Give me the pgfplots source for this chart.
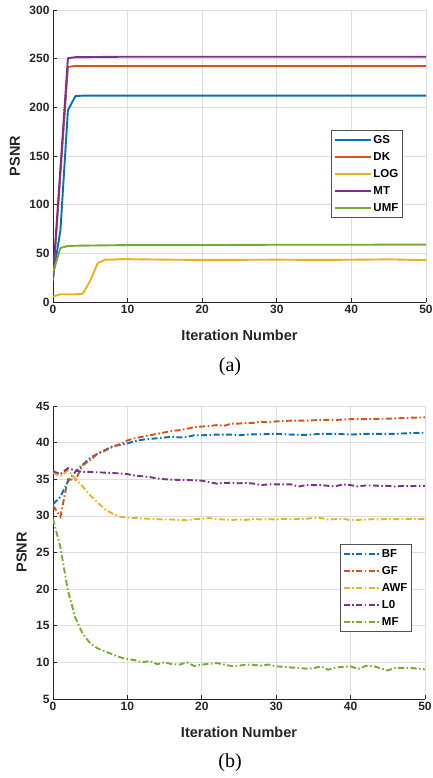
\documentclass[border=0pt]{standalone}
\usepackage{fontspec}
\setmainfont{Liberation Sans}
\newfontfamily\capfont{Liberation Serif}
\usepackage{pgfplots}
\pgfplotsset{compat=1.18}
\definecolor{mblue}{HTML}{0072BD}
\definecolor{mred}{HTML}{D95319}
\definecolor{myellow}{HTML}{EDB120}
\definecolor{mpurple}{HTML}{7E2F8E}
\definecolor{mgreen}{HTML}{77AC30}
\definecolor{axgray}{HTML}{262626}

\pgfplotsset{
  psnrstyle/.style={
    scale only axis,
    anchor=south west,
    xmin=0, xmax=50,
    xtick={0,10,...,50},
    axis lines=left,
    axis line style={-, draw=axgray, line width=0.9pt},
    tick align=inside,
    major tick length=4pt,
    tick style={draw=axgray, line width=0.7pt},
    grid=major,
    grid style={draw=black!13, line width=0.7pt},
    /pgf/number format/assume math mode=true,
    tick label style={font=\fontsize{12}{14}\selectfont\bfseries, text=axgray},
    xlabel={Iteration Number},
    ylabel={PSNR},
    x label style={at={(axis description cs:0.5,-0.113)}, anchor=center,
      font=\fontsize{14.5}{17}\selectfont\bfseries, text=axgray},
    legend cell align=left,
    legend image code/.code={\draw[#1] (0pt,0pt) -- (36pt,0pt);},
    legend style={font=\fontsize{11.5}{13}\selectfont\bfseries, text=black,
      draw=axgray!80, line width=0.6pt, anchor=north east,
      inner xsep=3pt, inner ysep=3.8pt, row sep=5.1pt,
      nodes={inner sep=1.2pt}},
  },
}

\begin{document}
\begin{tikzpicture}
\useasboundingbox (0,0) rectangle (433pt,778pt);

% ===== (a) =====
\begin{axis}[psnrstyle,
  at={(53pt,476pt)}, width=373pt, height=292pt,
  ymin=0, ymax=300, ytick={0,50,...,300},
  y label style={at={(axis description cs:-0.102,0.5)}, anchor=center,
    font=\fontsize{14.5}{17}\selectfont\bfseries, text=axgray},
  legend style={at={(0.938,0.589)}},
  every axis plot/.append style={line width=1.9pt, line join=round},
]
\addplot[mblue] coordinates {(0,26)(1,74)(2,197)(3,211.5)(4,212)(10,212)(20,212)(30,212)(40,212)(50,212)};
\addlegendentry{GS}
\addplot[mred] coordinates {(0,22)(1,132)(2,241.5)(3,242.5)(10,242.5)(20,242.5)(30,242.5)(40,242.5)(50,242.5)};
\addlegendentry{DK}
\addplot[myellow] coordinates {(0,5.5)(1,8)(2,8)(3,8)(4,8.5)(5,22)(6,40)(7,43.5)(8,43.5)(9,44)(10,44)(12,43.8)(15,43.5)(20,43.2)(25,43.3)(30,43.5)(35,43.2)(40,43.4)(45,43.8)(48,43.3)(50,43)};
\addlegendentry{LOG}
\addplot[mpurple] coordinates {(0,25)(1,138)(2,250.5)(3,251.5)(10,252)(20,252)(30,252)(40,252)(50,252)};
\addlegendentry{MT}
\addplot[mgreen] coordinates {(0,30)(1,55.5)(2,57.5)(3,57.8)(5,58)(10,58.5)(20,58.5)(30,58.8)(40,58.8)(50,59)};
\addlegendentry{UMF}
\end{axis}
\node[font=\capfont\fontsize{20}{22}\selectfont] at (230pt,411pt) {(a)};

% ===== (b) =====
\begin{axis}[psnrstyle,
  at={(53pt,79pt)}, width=372pt, height=293pt,
  ymin=5, ymax=45, ytick={5,10,...,45},
  y label style={at={(axis description cs:-0.084,0.5)}, anchor=center,
    font=\fontsize{14.5}{17}\selectfont\bfseries, text=axgray},
  legend style={at={(0.965,0.529)}},
  every axis plot/.append style={line width=1.9pt, dash pattern=on 6pt off 2.5pt on 1.5pt off 2.5pt},
]
\addplot[mblue] coordinates {(0,31.6)(1,32.6)(2,34.7)(3,36.0)(4,37.0)(5,37.9)(6,38.5)(7,39.0)(8,39.5)(9,39.7)(10,39.9)(11,40.2)(12,40.4)(13,40.5)(14,40.6)(15,40.7)(16,40.8)(17,40.7)(18,40.8)(19,41.0)(20,41.0)(22,41.1)(24,41.1)(25,41.0)(26,41.1)(28,41.15)(30,41.2)(32,41.1)(34,41.05)(36,41.2)(38,41.2)(40,41.1)(42,41.2)(44,41.2)(46,41.2)(48,41.3)(50,41.35)};
\addlegendentry{BF}
\addplot[mred] coordinates {(0,31.4)(1,29.9)(2,35.0)(3,34.9)(4,36.9)(5,37.6)(6,38.5)(7,38.9)(8,39.4)(9,39.8)(10,40.3)(11,40.6)(12,40.8)(13,41.0)(14,41.2)(15,41.4)(16,41.6)(17,41.7)(18,41.9)(19,42.1)(20,42.2)(21,42.25)(22,42.4)(23,42.3)(24,42.6)(25,42.6)(26,42.7)(27,42.7)(28,42.85)(29,42.75)(30,42.9)(32,43.0)(34,43.0)(36,43.1)(38,43.1)(40,43.2)(42,43.2)(44,43.25)(46,43.3)(48,43.4)(50,43.45)};
\addlegendentry{GF}
\addplot[myellow] coordinates {(0,35.9)(1,35.4)(2,36.2)(3,35.1)(4,34.0)(5,32.8)(6,31.8)(7,30.9)(8,30.3)(9,29.9)(10,29.75)(11,29.7)(12,29.65)(13,29.6)(14,29.55)(15,29.5)(16,29.5)(17,29.45)(18,29.4)(19,29.55)(20,29.6)(21,29.7)(22,29.55)(23,29.5)(24,29.45)(25,29.5)(26,29.45)(27,29.6)(28,29.5)(29,29.55)(30,29.5)(31,29.6)(32,29.55)(33,29.6)(34,29.6)(35,29.7)(36,29.7)(37,29.5)(38,29.55)(39,29.6)(40,29.4)(41,29.45)(42,29.5)(43,29.55)(44,29.5)(45,29.6)(46,29.55)(47,29.6)(48,29.6)(49,29.55)(50,29.6)};
\addlegendentry{AWF}
\addplot[mpurple] coordinates {(0,36.1)(1,35.7)(2,36.5)(3,36.2)(4,36.0)(5,36.0)(6,35.95)(7,35.9)(8,35.85)(9,35.8)(10,35.7)(11,35.5)(12,35.4)(13,35.3)(14,35.1)(15,35.0)(16,34.95)(17,34.9)(18,34.9)(19,34.85)(20,34.8)(21,34.6)(22,34.4)(23,34.5)(24,34.5)(25,34.45)(26,34.5)(27,34.4)(28,34.2)(29,34.3)(30,34.3)(31,34.3)(32,34.3)(33,34.0)(34,34.2)(35,34.2)(36,34.2)(37,34.1)(38,34.05)(39,34.3)(40,34.2)(41,34.0)(42,34.15)(43,34.15)(44,34.1)(45,34.1)(46,34.0)(47,34.1)(48,34.05)(49,34.1)(50,34.1)};
\addlegendentry{L0}
\addplot[mgreen] coordinates {(0,29.6)(1,25.7)(2,19.8)(3,16.1)(4,13.9)(5,12.6)(6,11.9)(7,11.5)(8,11.1)(9,10.7)(10,10.45)(11,10.3)(12,10.0)(13,10.2)(14,9.75)(15,10.0)(16,9.75)(17,9.7)(18,10.0)(19,9.5)(20,9.7)(21,9.8)(22,9.9)(23,9.7)(24,9.5)(25,9.55)(26,9.7)(27,9.65)(28,9.55)(29,9.7)(30,9.45)(31,9.4)(32,9.3)(33,9.25)(34,9.15)(35,9.2)(36,9.45)(37,9.0)(38,9.3)(39,9.4)(40,9.45)(41,9.1)(42,9.5)(43,9.5)(44,9.2)(45,8.9)(46,9.25)(47,9.25)(48,9.25)(49,9.15)(50,9.05)};
\addlegendentry{MF}
\end{axis}
\node[font=\capfont\fontsize{20}{22}\selectfont] at (230pt,15pt) {(b)};
\end{tikzpicture}
\end{document}
